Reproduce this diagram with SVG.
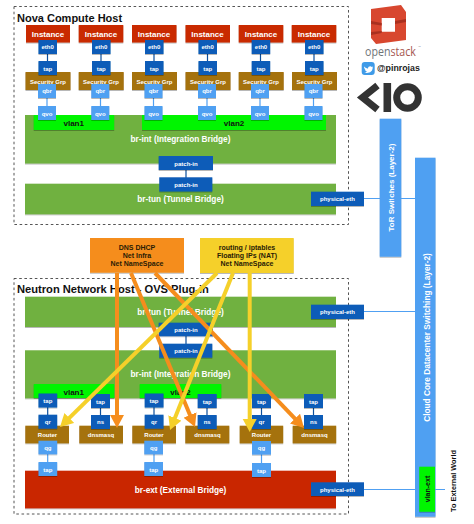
<svg xmlns="http://www.w3.org/2000/svg" width="474" height="524" viewBox="0 0 474 524">
<style>
text{font-family:"Liberation Sans",Arial,sans-serif;font-weight:bold;text-anchor:middle}
.w{fill:#fff}
.k{fill:#111}
.s{font-size:6px;fill:#fff}
.m{font-size:8px}
.b{font-size:8.25px;fill:#fff}
.t{font-size:11px;fill:#111;text-anchor:start}
.o{font-size:7px;fill:#2a1c05}
.host{fill:none;stroke:#555;stroke-width:1;stroke-dasharray:2.6 2.6}
rect{filter:url(#sh)}
.host,.ic{filter:none}
.inst{fill:#c92a06}
.green{fill:#70b140}
.lime{fill:#00f500}
.dk{fill:#0b5cb8}
.lt{fill:#50a0f2}
.br{fill:#a5720f}
.red{fill:#c92504}
.org{fill:#f58d1d}
.yel{fill:#f5d02a}
.cd{stroke:#0d4f9c;stroke-width:1.2;fill:none}
.cl{stroke:#50a0f2;stroke-width:1.2;fill:none}
.ao{stroke:#f58d1d;stroke-width:4;fill:none;marker-end:url(#ho)}
.ay{stroke:#f5d02a;stroke-width:4;fill:none;marker-end:url(#hy)}
</style>
<defs>
<filter id="sh" x="-10%" y="-10%" width="120%" height="130%"><feDropShadow dx="0" dy="0.8" stdDeviation="0.5" flood-color="#000" flood-opacity="0.35"/></filter>
<marker id="ho" markerUnits="userSpaceOnUse" markerWidth="15" markerHeight="15" refX="1" refY="7" orient="auto"><path d="M0 0L13 7L0 14Z" fill="#f58d1d"/></marker>
<marker id="hy" markerUnits="userSpaceOnUse" markerWidth="15" markerHeight="15" refX="1" refY="7" orient="auto"><path d="M0 0L13 7L0 14Z" fill="#f5d02a"/></marker>
</defs>
<rect width="474" height="524" fill="#fff" style="filter:none"/>

<g id="hosts">
<rect class="host" x="14" y="6.5" width="334.5" height="218"/>
<text class="t" x="17" y="21.5">Nova Compute Host</text>
<rect class="host" x="14" y="278.5" width="334.5" height="235.5"/>
<text class="t" x="17" y="293" style="font-size:11.15px">Neutron Network Host - OVS Plug-in</text>
</g>

<g id="compute-bridges">
<g id="c-br-int"><rect class="green" x="25" y="115" width="311" height="48.5"/><text class="b" x="180.5" y="142">br-int (Integration Bridge)</text></g>
<g id="c-br-tun"><rect class="green" x="25" y="183.7" width="311" height="30.6"/><text class="b" x="180.5" y="202">br-tun (Tunnel Bridge)</text></g>
<g id="c-vlan1"><rect class="lime" x="33.7" y="115" width="80.5" height="15"/><text class="m k" x="73.7" y="126">vlan1</text></g>
<g id="c-vlan2"><rect class="lime" x="142" y="115" width="184" height="15"/><text class="m k" x="234" y="126">vlan2</text></g>
</g>

<g id="network-bridges">
<g id="n-br-tun"><rect class="green" x="25" y="296.7" width="311" height="30.3"/><text class="b" x="180.5" y="314.5">br-tun (Tunnel Bridge)</text></g>
<g id="n-br-int"><rect class="green" x="25" y="350.3" width="311" height="48"/><text class="b" x="180.5" y="377">br-int (Integration Bridge)</text></g>
<g id="n-vlan1"><rect class="lime" x="33.7" y="384" width="80.5" height="14"/><text class="m k" x="73.7" y="394.5">vlan1</text></g>
<g id="n-vlan2"><rect class="lime" x="139.7" y="384" width="81.6" height="14"/><text class="m k" x="180.5" y="394.5">vlan2</text></g>
<g id="n-br-ext"><rect class="red" x="25" y="470.7" width="311" height="37.6"/><text class="b" x="180.5" y="492.5">br-ext (External Bridge)</text></g>
</g>

<g id="switches">
<g id="tor"><rect class="lt" x="379.7" y="118.7" width="21.6" height="138"/><text class="m w" transform="translate(394.3 187.5) rotate(-90)">ToR Switches (Layer-2)</text></g>
<g id="core"><rect class="lt" x="415" y="157.7" width="20.5" height="359"/><text class="m w" transform="translate(429.5 337.5) rotate(-90)" style="font-size:8.3px">Cloud Core Datacenter Switching (Layer-2)</text></g>
</g>

<g id="connectors">
<path class="cd" d="M47.5 50V65M101 50V65M154 50V65M207.5 50V65M260.5 50V65M314 50V65"/>
<path class="cl" d="M47 94V110M100.5 94V110M153.5 94V110M207 94V110M260 94V110M313.5 94V110"/>
<path class="cd" d="M186 165V182M186 332V348"/>
<path class="cd" d="M47.7 403V418M100.5 403V418M154 403V418M207 403V418M261.5 403V418M313.5 403V418"/>
<path class="cl" d="M47.7 450V466M154 450V466M261.5 450V466"/>
<path class="cl" d="M364 198.5H415M364 311.5H415M364 489.5H445"/>
</g>

<g id="instances">
<g id="inst1"><rect class="inst" x="26" y="25" width="44" height="17.5"/><text class="m w" x="48" y="36.5">Instance</text></g>
<g id="inst2"><rect class="inst" x="78.7" y="25" width="44.6" height="17.5"/><text class="m w" x="101" y="36.5">Instance</text></g>
<g id="inst3"><rect class="inst" x="132" y="25" width="44.5" height="17.5"/><text class="m w" x="154" y="36.5">Instance</text></g>
<g id="inst4"><rect class="inst" x="185.5" y="25" width="44.5" height="17.5"/><text class="m w" x="207.5" y="36.5">Instance</text></g>
<g id="inst5"><rect class="inst" x="238.7" y="25" width="44.6" height="17.5"/><text class="m w" x="261" y="36.5">Instance</text></g>
<g id="inst6"><rect class="inst" x="291.7" y="25" width="44.6" height="17.5"/><text class="m w" x="314" y="36.5">Instance</text></g>
</g>
<g id="secgroups">
<g id="sg1"><rect class="br" x="25.5" y="72" width="45" height="18"/><text class="s" x="48" y="83.5">Security Grp</text></g>
<g id="sg2"><rect class="br" x="78.7" y="72" width="45" height="18"/><text class="s" x="101" y="83.5">Security Grp</text></g>
<g id="sg3"><rect class="br" x="132" y="72" width="45" height="18"/><text class="s" x="154.5" y="83.5">Security Grp</text></g>
<g id="sg4"><rect class="br" x="185.5" y="72" width="45" height="18"/><text class="s" x="208" y="83.5">Security Grp</text></g>
<g id="sg5"><rect class="br" x="238.7" y="72" width="45" height="18"/><text class="s" x="261" y="83.5">Security Grp</text></g>
<g id="sg6"><rect class="br" x="292" y="72" width="45" height="18"/><text class="s" x="314.5" y="83.5">Security Grp</text></g>
</g>
<g id="ports-compute">
<g id="eth1"><rect class="dk" x="38.5" y="40" width="18.5" height="14"/><text class="s" x="47.7" y="49.2">eth0</text></g>
<g id="eth2"><rect class="dk" x="92" y="40" width="18.5" height="14"/><text class="s" x="101.2" y="49.2">eth0</text></g>
<g id="eth3"><rect class="dk" x="145" y="40" width="18.5" height="14"/><text class="s" x="154.2" y="49.2">eth0</text></g>
<g id="eth4"><rect class="dk" x="198.5" y="40" width="18.5" height="14"/><text class="s" x="207.7" y="49.2">eth0</text></g>
<g id="eth5"><rect class="dk" x="251.7" y="40" width="18.5" height="14"/><text class="s" x="261" y="49.2">eth0</text></g>
<g id="eth6"><rect class="dk" x="305" y="40" width="18.5" height="14"/><text class="s" x="314.2" y="49.2">eth0</text></g>
<g id="tap1"><rect class="dk" x="38.5" y="61" width="18.5" height="14"/><text class="s" x="47.7" y="70.5">tap</text></g>
<g id="tap2"><rect class="dk" x="92" y="61" width="18.5" height="14"/><text class="s" x="101.2" y="70.5">tap</text></g>
<g id="tap3"><rect class="dk" x="145" y="61" width="18.5" height="14"/><text class="s" x="154.2" y="70.5">tap</text></g>
<g id="tap4"><rect class="dk" x="198.5" y="61" width="18.5" height="14"/><text class="s" x="207.7" y="70.5">tap</text></g>
<g id="tap5"><rect class="dk" x="251.7" y="61" width="18.5" height="14"/><text class="s" x="261" y="70.5">tap</text></g>
<g id="tap6"><rect class="dk" x="305" y="61" width="18.5" height="14"/><text class="s" x="314.2" y="70.5">tap</text></g>
<g id="qbr1"><rect class="lt" x="38" y="84" width="18" height="14"/><text class="s" x="47" y="93.3">qbr</text></g>
<g id="qbr2"><rect class="lt" x="91.3" y="84" width="18" height="14"/><text class="s" x="100.3" y="93.3">qbr</text></g>
<g id="qbr3"><rect class="lt" x="144.5" y="84" width="18" height="14"/><text class="s" x="153.5" y="93.3">qbr</text></g>
<g id="qbr4"><rect class="lt" x="198" y="84" width="18" height="14"/><text class="s" x="207" y="93.3">qbr</text></g>
<g id="qbr5"><rect class="lt" x="251" y="84" width="18" height="14"/><text class="s" x="260" y="93.3">qbr</text></g>
<g id="qbr6"><rect class="lt" x="304.5" y="84" width="18" height="14"/><text class="s" x="313.5" y="93.3">qbr</text></g>
<g id="qvo1"><rect class="lt" x="38" y="106" width="18" height="14"/><text class="s" x="47" y="115.5">qvo</text></g>
<g id="qvo2"><rect class="lt" x="91.3" y="106" width="18" height="14"/><text class="s" x="100.3" y="115.5">qvo</text></g>
<g id="qvo3"><rect class="lt" x="144.5" y="106" width="18" height="14"/><text class="s" x="153.5" y="115.5">qvo</text></g>
<g id="qvo4"><rect class="lt" x="198" y="106" width="18" height="14"/><text class="s" x="207" y="115.5">qvo</text></g>
<g id="qvo5"><rect class="lt" x="251" y="106" width="18" height="14"/><text class="s" x="260" y="115.5">qvo</text></g>
<g id="qvo6"><rect class="lt" x="304.5" y="106" width="18" height="14"/><text class="s" x="313.5" y="115.5">qvo</text></g>
<g id="c-patch1"><rect class="dk" x="158.7" y="156" width="54.3" height="14"/><text class="s" x="186" y="165.5">patch-in</text></g>
<g id="c-patch2"><rect class="dk" x="159.3" y="177.3" width="53" height="14.2"/><text class="s" x="186" y="187">patch-in</text></g>
<g id="c-phys"><rect class="dk" x="311" y="191.7" width="53" height="14.3"/><text class="s" x="337.5" y="201.3">physical-eth</text></g>
</g>

<g id="routers">
<g id="r1"><rect class="br" x="25.3" y="425.7" width="43.7" height="17.6"/><text class="s" x="47.5" y="436.5">Router</text></g>
<g id="d1"><rect class="br" x="79.3" y="425.7" width="43.7" height="17.6"/><text class="s" x="101" y="436.5">dnsmasq</text></g>
<g id="r2"><rect class="br" x="132.3" y="425.7" width="43.7" height="17.6"/><text class="s" x="154" y="436.5">Router</text></g>
<g id="d2"><rect class="br" x="185.3" y="425.7" width="44" height="17.6"/><text class="s" x="207.5" y="436.5">dnsmasq</text></g>
<g id="r3"><rect class="br" x="239.7" y="425.7" width="43.5" height="17.6"/><text class="s" x="261.5" y="436.5">Router</text></g>
<g id="d3"><rect class="br" x="292.7" y="425.7" width="43.5" height="17.6"/><text class="s" x="314.5" y="436.5">dnsmasq</text></g>
</g>
<g id="ports-network">
<g id="n-tap1"><rect class="dk" x="38.5" y="393.5" width="18.7" height="14"/><text class="s" x="47.8" y="403">tap</text></g>
<g id="n-tap2"><rect class="dk" x="91" y="394" width="19" height="14"/><text class="s" x="100.5" y="403.5">tap</text></g>
<g id="n-tap3"><rect class="dk" x="144.7" y="393.5" width="18.8" height="14"/><text class="s" x="154" y="403">tap</text></g>
<g id="n-tap4"><rect class="dk" x="197.7" y="394" width="19" height="14"/><text class="s" x="207.2" y="403.5">tap</text></g>
<g id="n-tap5"><rect class="dk" x="252" y="394" width="19" height="14"/><text class="s" x="261.5" y="403.5">tap</text></g>
<g id="n-tap6"><rect class="dk" x="304" y="394" width="19" height="14"/><text class="s" x="313.5" y="403.5">tap</text></g>
<g id="qr1"><rect class="dk" x="38.5" y="414.7" width="18.7" height="14"/><text class="s" x="47.8" y="424">qr</text></g>
<g id="ns1"><rect class="dk" x="91" y="415" width="19" height="14"/><text class="s" x="100.5" y="424.3">ns</text></g>
<g id="qr2"><rect class="dk" x="144.7" y="414.7" width="18.8" height="14"/><text class="s" x="154" y="424">qr</text></g>
<g id="ns2"><rect class="dk" x="197.7" y="415" width="19" height="14"/><text class="s" x="207.2" y="424.3">ns</text></g>
<g id="qr3"><rect class="dk" x="252" y="415" width="19" height="14"/><text class="s" x="261.5" y="424.3">qr</text></g>
<g id="ns3"><rect class="dk" x="304" y="415" width="19" height="14"/><text class="s" x="313.5" y="424.3">ns</text></g>
<g id="qg1"><rect class="lt" x="38.5" y="440.7" width="18.7" height="13.6"/><text class="s" x="47.8" y="449.5">qg</text></g>
<g id="qg2"><rect class="lt" x="144.3" y="440.7" width="18.7" height="13.6"/><text class="s" x="153.7" y="449.5">qg</text></g>
<g id="qg3"><rect class="lt" x="252" y="441" width="19" height="13.6"/><text class="s" x="261.5" y="449.8">qg</text></g>
<g id="ext-tap1"><rect class="lt" x="38.5" y="462" width="18.7" height="14"/><text class="s" x="47.8" y="471.5">tap</text></g>
<g id="ext-tap2"><rect class="lt" x="144.3" y="462" width="18.7" height="14"/><text class="s" x="153.7" y="471.5">tap</text></g>
<g id="ext-tap3"><rect class="lt" x="252" y="463" width="19" height="14"/><text class="s" x="261.5" y="472.5">tap</text></g>
<g id="n-patch1"><rect class="dk" x="158.7" y="322.7" width="54.3" height="13.5"/><text class="s" x="186" y="332">patch-in</text></g>
<g id="n-patch2"><rect class="dk" x="159.3" y="343.7" width="53" height="14"/><text class="s" x="186" y="353">patch-in</text></g>
<g id="n-phys1"><rect class="dk" x="311" y="304.7" width="53" height="14.3"/><text class="s" x="337.5" y="314.3">physical-eth</text></g>
<g id="n-phys2"><rect class="dk" x="311" y="482.3" width="53" height="13.7"/><text class="s" x="337.5" y="491.7">physical-eth</text></g>
<g id="vlan-ext"><rect class="lime" x="419.3" y="466.7" width="15.7" height="45"/><text class="k" style="font-size:7px" transform="translate(429.5 489) rotate(-90)">vlan-ext</text></g>
</g>

<g id="namespaces">
<g id="dns"><rect class="org" x="90" y="238" width="94" height="34.7"/><text class="o" x="137" y="249.5">DNS DHCP</text><text class="o" x="137" y="257.8">Net Infra</text><text class="o" x="137" y="266">Net NameSpace</text></g>
<g id="routing"><rect class="yel" x="200" y="238" width="93.7" height="35"/><text class="o" x="247" y="249.5">routing / iptables</text><text class="o" x="247" y="257.8">Floating IPs (NAT)</text><text class="o" x="247" y="266">Net NameSpace</text></g>
</g>

<g id="arrows">
<path class="ao" d="M117 273V416"/>
<path class="ao" d="M131 273L190.4 415.9"/>
<path class="ao" d="M155 273L295.7 419.3"/>
<path class="ay" d="M217 273L68.6 418.6"/>
<path class="ay" d="M233 273L174.5 418.9"/>
<path class="ay" d="M249.7 273V420"/>
</g>

<text class="k" style="font-size:7.3px" transform="translate(455.5 481) rotate(-90)">To External World</text>

<g id="logos">
<path class="ic" fill="#d8472f" fill-rule="evenodd" d="M371 9L401 5L406 12V40L376 44L371 38ZM381.7 18V31.7H395V18Z"/>
<path class="ic" fill="#a9301f" d="M371 21L381.7 23V25.5L371 24ZM395 21L406 19V22L395 24ZM371 32L381.7 31V33L371 35Z"/>
<text transform="translate(365 55.5) scale(.82 1)" style="font-family:'Open Sans','Liberation Sans',sans-serif;font-weight:400;font-size:13px;text-anchor:start"><tspan fill="#6f7478">open</tspan><tspan fill="#a5574f">stack</tspan></text>
<text x="418" y="48" style="font-weight:400;font-size:3px;text-anchor:start" fill="#888">™</text>
<rect class="ic" x="361.7" y="62" width="13" height="13" rx="3" fill="#3f9be8"/>
<path class="ic" fill="#fff" d="M364 66.5C365.5 68 367 68.5 368 68.5C368 66.5 370.5 65.5 371.8 67L373 66.6L372.4 67.8L373.2 67.7L372.5 68.5C372.5 71.5 369 74 364 72.5C365.5 72.5 366.3 72 367 71.5C365.5 71 365 70.3 364.8 69.8L365.6 69.8C364.7 69.2 364.3 68.6 364.4 68C364 67.6 363.8 67 364 66.5Z"/>
<text x="377" y="71" style="font-size:8.8px;text-anchor:start" fill="#222">@pinrojas</text>
<path class="ic" d="M377.5 85.5L362.5 97.5L377.5 109.5" fill="none" stroke="#333" stroke-width="7"/>
<rect class="ic" x="383.5" y="83" width="7.6" height="29" fill="#333"/>
<circle class="ic" cx="407.5" cy="97.5" r="10.8" fill="none" stroke="#333" stroke-width="7"/>
</g>
</svg>
